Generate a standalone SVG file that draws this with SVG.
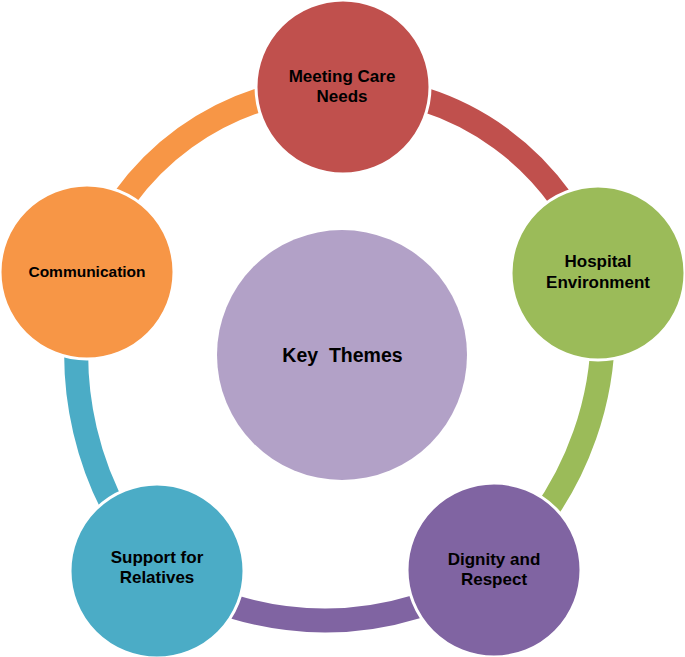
<svg xmlns="http://www.w3.org/2000/svg" width="685" height="657" viewBox="0 0 685 657">
<style>
.ring{fill:none;stroke-width:24;stroke-linecap:butt}
.node{stroke:#ffffff;stroke-width:3}
.lbl{font-family:"Liberation Sans","Arial",sans-serif;font-weight:bold;font-size:17px;fill:#000000;text-anchor:middle}
</style>
<rect width="685" height="657" fill="#ffffff"/>
<g id="connectors">
<path class="ring" stroke="#C0504D" d="M343,87 A268,268 0 0 1 598,273"/>
<path class="ring" stroke="#9BBB59" d="M598,273 A322,322 0 0 1 494,570"/>
<path class="ring" stroke="#8064A2" d="M494,570 A309,309 0 0 1 157,571"/>
<path class="ring" stroke="#4BACC6" d="M157,571 A329,329 0 0 1 87,272"/>
<path class="ring" stroke="#F79646" d="M87,272 A268,268 0 0 1 343,87"/>
</g>
<g id="key-themes">
<circle cx="342" cy="355" r="125" fill="#B2A1C7"/>
<text class="lbl" x="342.5" y="362" font-size="19.5" style="font-size:19.5px" xml:space="preserve">Key  Themes</text>
</g>
<g id="meeting-care-needs">
<circle class="node" cx="343" cy="87" r="87" fill="#C0504D"/>
<text class="lbl" x="342" y="82">Meeting Care</text>
<text class="lbl" x="342" y="102">Needs</text>
</g>
<g id="hospital-environment">
<circle class="node" cx="598" cy="273" r="87" fill="#9BBB59"/>
<text class="lbl" x="598" y="267">Hospital</text>
<text class="lbl" x="598" y="288">Environment</text>
</g>
<g id="dignity-and-respect">
<circle class="node" cx="494" cy="570" r="87" fill="#8064A2"/>
<text class="lbl" x="494" y="565">Dignity and</text>
<text class="lbl" x="494" y="585">Respect</text>
</g>
<g id="support-for-relatives">
<circle class="node" cx="157" cy="571" r="87" fill="#4BACC6"/>
<text class="lbl" x="157" y="563">Support for</text>
<text class="lbl" x="157" y="583">Relatives</text>
</g>
<g id="communication">
<circle class="node" cx="87" cy="272" r="87" fill="#F79646"/>
<text class="lbl" x="87" y="277" style="font-size:15.5px">Communication</text>
</g>
</svg>
